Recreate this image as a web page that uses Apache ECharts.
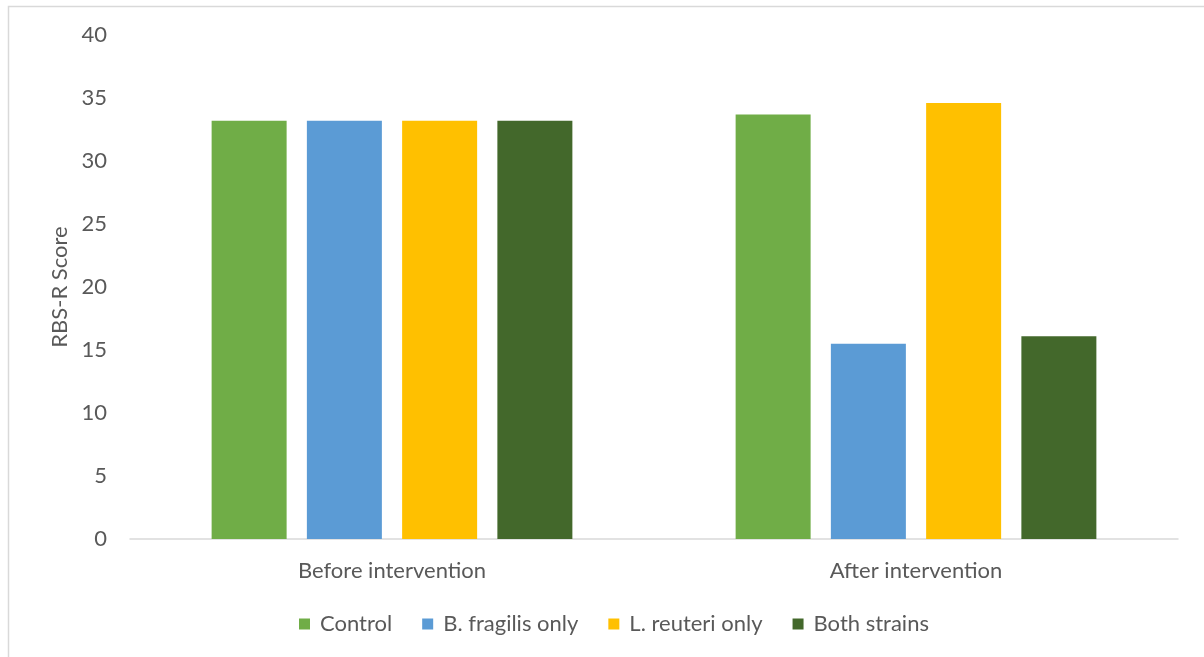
<!DOCTYPE html>
<html>
<head>
<meta charset="utf-8">
<script src="https://cdn.jsdelivr.net/npm/echarts@6/dist/echarts.min.js"></script>
<style>html,body{margin:0;padding:0;background:#fff;}#c{width:1204px;height:657px;}</style>
</head>
<body>
<div id="c"></div>
<script>
const categories = ['Before intervention', 'After intervention'];
const seriesNames = ['Control', 'B. fragilis only', 'L. reuteri only', 'Both strains'];
const controlValues = [33.2, 33.7];
const bFragilisValues = [33.2, 15.5];
const lReuteriValues = [33.2, 34.6];
const bothValues = [33.2, 16.1];
const yTicks = [0, 5, 10, 15, 20, 25, 30, 35, 40];
const colors = ['#70AD47', '#5B9BD5', '#FFC000', '#43682B'];

const font = 'Lato, "Open Sans", sans-serif';
const txt = '#595959';
const dataSets = [controlValues, bFragilisValues, lReuteriValues, bothValues];

const chart = echarts.init(document.getElementById('c'), null, {renderer: 'canvas'});
chart.setOption({
  animation: false,
  backgroundColor: '#fff',
  textStyle: {fontFamily: font, color: txt},
  graphic: [{
    type: 'rect', shape: {x: 8.5, y: 6.5, width: 1300, height: 700},
    style: {fill: 'none', stroke: '#D9D9D9', lineWidth: 1.5}, silent: true, z: -1
  }],
  grid: {left: 130, right: 26, top: 35, bottom: 118, containLabel: false},
  legend: {
    top: 608, left: 294,
    itemWidth: 11, itemHeight: 11, itemGap: 30,
    icon: 'rect',
    textStyle: {fontFamily: font, fontSize: 22, color: txt, padding: [0, 0, 0, 5]},
    data: seriesNames
  },
  xAxis: {
    type: 'category', data: categories,
    axisLine: {lineStyle: {color: '#D9D9D9', width: 1.5}},
    axisTick: {show: false},
    axisLabel: {fontFamily: font, fontSize: 22, color: txt, margin: 21}
  },
  yAxis: {
    type: 'value', min: yTicks[0], max: yTicks[yTicks.length - 1], interval: 5,
    name: 'RBS-R Score', nameLocation: 'middle', nameGap: 58, nameRotate: 90,
    nameTextStyle: {fontFamily: font, fontSize: 22, color: txt},
    axisLine: {show: false}, axisTick: {show: false},
    splitLine: {show: false},
    axisLabel: {fontFamily: font, fontSize: 22, color: txt, margin: 23}
  },
  series: seriesNames.map((n, i) => ({
    name: n, type: 'bar', data: dataSets[i],
    barWidth: 75, barGap: '27%',
    itemStyle: {color: colors[i]}
  }))
});
</script>
</body>
</html>
